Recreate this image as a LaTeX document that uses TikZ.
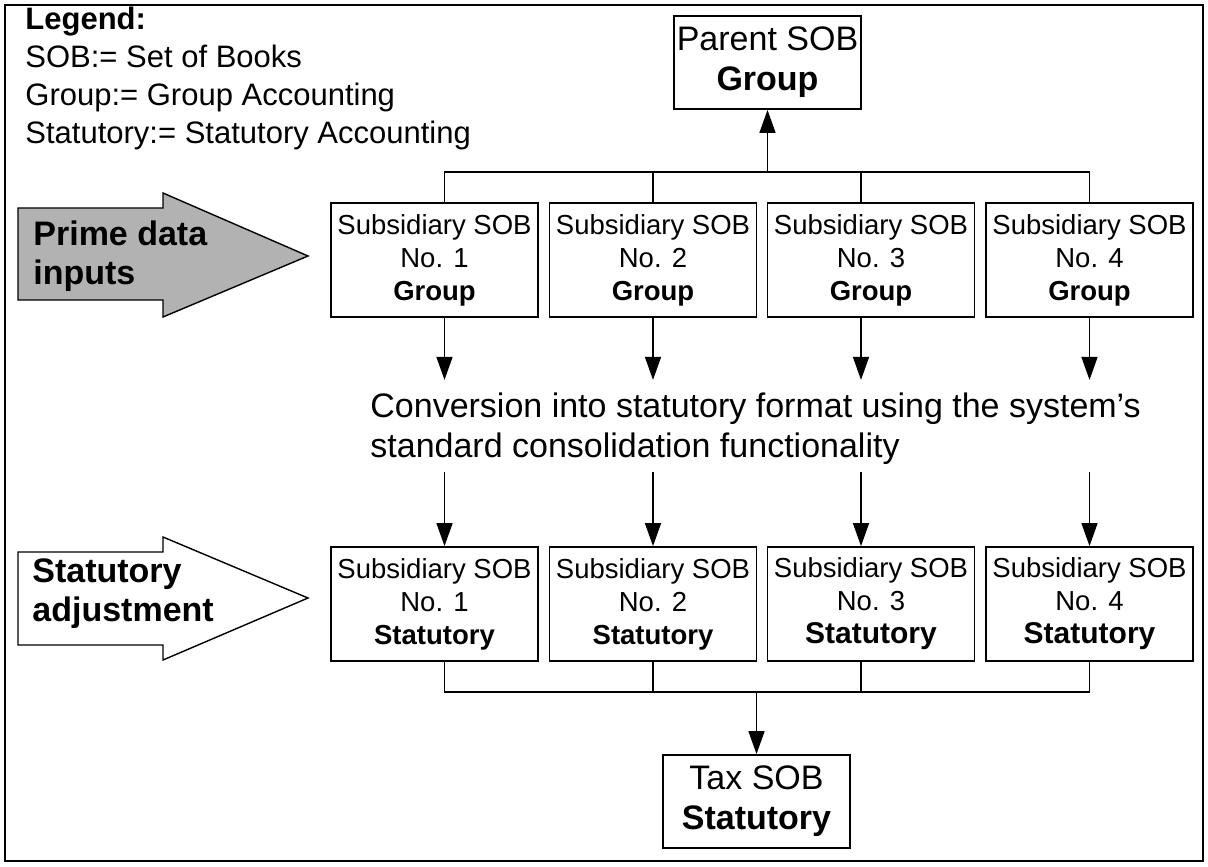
\documentclass[tikz,border=0pt]{standalone}
\usepackage{fontspec}
\setmainfont{Liberation Sans}
\usetikzlibrary{arrows.meta}

\tikzset{
    sobbox/.style={draw, line width=0.9pt, minimum width=103.5pt, minimum height=57pt, inner sep=0pt, align=center, font=\fontsize{13.75}{16.5}\selectfont},
    topbox/.style={draw, line width=0.9pt, minimum width=93.5pt, minimum height=46.5pt, inner sep=0pt, align=center, font=\fontsize{17}{20}\selectfont},
    conn/.style={line width=0.7pt},
    arr/.style={-{Triangle[length=11.5pt,width=8pt]}},
    bigarrow/.style={draw, line width=0.7pt},
    arrowtext/.style={anchor=north west, inner sep=0pt, align=left, font=\fontsize{17}{19.5}\selectfont\bfseries},
}

\begin{document}
\begin{tikzpicture}[x=0.5pt, y=-0.5pt]
    \useasboundingbox (0,0) rectangle (1208,866);
    \draw[line width=0.9pt] (5,5) rectangle (1203,861);

    % legend
    \node[anchor=north west, inner sep=0pt, align=left, font=\fontsize{15.5}{19}\selectfont] (legend) at (25,6.5)
        {\textbf{Legend:}\\SOB:= Set of Books\\Group:= Group Accounting\\Statutory:= Statutory Accounting};

    % side arrows
    \fill[gray!60] (18,208) -- (163,208) -- (163,193) -- (308,256) -- (163,317) -- (163,300) -- (18,300) -- cycle;
    \draw[bigarrow] (18,208) -- (163,208) -- (163,193) -- (308,256) -- (163,317) -- (163,300) -- (18,300) -- cycle;
    \node[arrowtext] (prime) at (33,220) {Prime data\\inputs};
    \draw[bigarrow, fill=white] (18,552) -- (163,552) -- (163,537) -- (308,598) -- (163,660) -- (163,645) -- (18,645) -- cycle;
    \node[arrowtext] (adjust) at (32,558) {Statutory\\adjustment};

    % boxes
    \node[topbox] (parent) at (767.5,62.5) {Parent SOB\\\textbf{Group}};
    \node[sobbox] (g1) at (434.5,260) {Subsidiary SOB\\No. 1\\\textbf{Group}};
    \node[sobbox] (g2) at (653,260) {Subsidiary SOB\\No. 2\\\textbf{Group}};
    \node[sobbox] (g3) at (871,260) {Subsidiary SOB\\No. 3\\\textbf{Group}};
    \node[sobbox] (g4) at (1089.5,260) {Subsidiary SOB\\No. 4\\\textbf{Group}};
    \node[sobbox] (s1) at (434.5,604) {Subsidiary SOB\\No. 1\\\textbf{Statutory}};
    \node[sobbox] (s2) at (653,604) {Subsidiary SOB\\No. 2\\\textbf{Statutory}};
    \node[sobbox] (s3) at (871,604) {Subsidiary SOB\\No. 3\\{\fontsize{15}{16.5}\selectfont\bfseries Statutory}};
    \node[sobbox] (s4) at (1089.5,604) {Subsidiary SOB\\No. 4\\{\fontsize{15}{16.5}\selectfont\bfseries Statutory}};
    \node[topbox] (tax) at (756.5,801.5) {Tax SOB\\\textbf{Statutory}};

    \node[anchor=north west, inner sep=0pt, align=left, font=\fontsize{17}{20}\selectfont] (conv) at (370,392)
        {Conversion into statutory format using the system’s\\standard consolidation functionality};

    % connectors
    \coordinate (busup) at (parent.south |- 0,172);
    \coordinate (busdown) at (tax.north |- 0,692);
    \draw[conn, arr] (busup) -- (parent);
    \draw[conn, arr] (busdown) -- (tax);
    \foreach \i/\dx in {1/5pt, 2/0pt, 3/-5pt, 4/0pt} {
        \draw[conn] ([xshift=\dx]g\i.north) |- (busup);
        \draw[conn, arr] ([xshift=\dx]g\i.south) -- ++(0,62);
        \draw[conn, arr] ([xshift=\dx, yshift=37pt]s\i.north) -- ([xshift=\dx]s\i.north);
        \draw[conn] ([xshift=\dx]s\i.south) |- (busdown);
    }
\end{tikzpicture}
\end{document}
